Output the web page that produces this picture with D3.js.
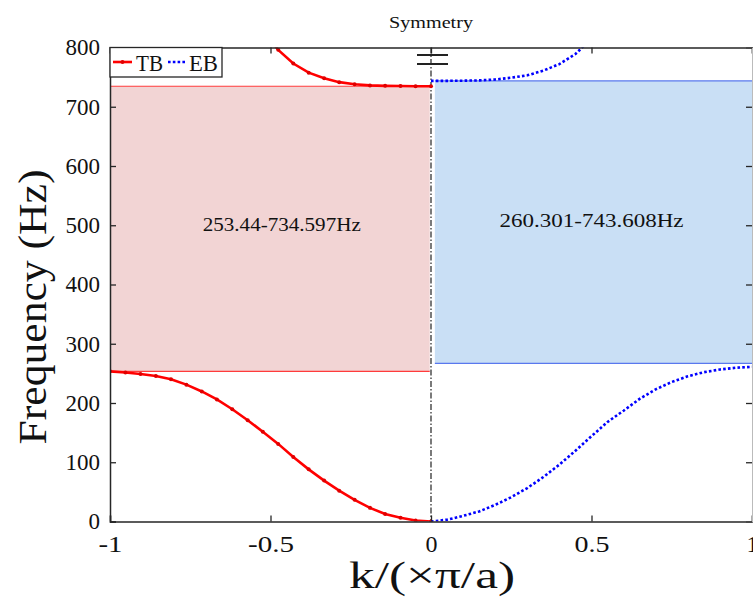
<!DOCTYPE html>
<html>
<head>
<meta charset="utf-8">
<script src="https://cdn.jsdelivr.net/npm/d3@7/dist/d3.min.js"></script>
<style>
  body { margin: 0; background: #fff; }
  svg text { font-family: "Liberation Serif", "Times New Roman", serif !important; fill: #111; }
</style>
</head>
<body>
<svg id="chart"></svg>
<script>
// values
let kRed = [-1, -0.952, -0.905, -0.857, -0.810, -0.762, -0.714, -0.667, -0.619, -0.571, -0.524,
            -0.476, -0.429, -0.381, -0.333, -0.286, -0.238, -0.190, -0.143, -0.095, -0.048, 0];
let tbLow = [253.4, 251.5, 249, 245.5, 240, 231, 219.5, 206, 189.5, 171, 151.5,
             131, 109, 88, 69, 52, 36.5, 23, 12.6, 6.2, 1.8, 0];
let tbHigh = [null, null, null, null, null, null, null, null, null, null, 830,
              796, 773, 757.5, 748, 741.5, 738, 736, 735.3, 734.9, 734.7, 734.6];

let kBlue = [0, 0.05, 0.1, 0.15, 0.2, 0.25, 0.3, 0.35, 0.4, 0.45, 0.5,
             0.55, 0.6, 0.65, 0.7, 0.75, 0.8, 0.85, 0.9, 0.95, 1];
let ebLow = [0, 3, 9.5, 17, 28, 41, 56.5, 75, 96, 119.5, 144,
             168, 187, 207, 223, 235.5, 245, 252, 256.5, 259.5, 261];
let ebHigh = [743.6, 743.7, 744, 744.5, 746, 749, 753, 761, 772, 789, 815,
              850, null, null, null, null, null, null, null, null, null];

// band gaps: [k start, k end, f low, f high]
let redBand = [-1, -0.004, 253.44, 734.597];
let blueBand = [0.012, 1, 267, 743.608];
let bandLabels = ["253.44-734.597Hz", "260.301-743.608Hz"];

let xTicks = [-1, -0.5, 0, 0.5, 1];
let xTickLen = [24, 46, 12, 35, 12];
let yTicks = [0, 100, 200, 300, 400, 500, 600, 700, 800];
let legendNames = ["TB", "EB"];

let width = 753;
let height = 597;
let mLeft = 110, mRight = 752, mTop = 47.5, mBottom = 521.5;
let serif = "'Liberation Serif', 'Times New Roman', serif";

let svg = d3.select("#chart").attr("width", width).attr("height", height);

let xScale = d3.scaleLinear().domain([-1, 1]).range([mLeft, mRight]);
let yScale = d3.scaleLinear().domain([0, 800]).range([mBottom, mTop]);

svg.append("defs").append("clipPath").attr("id", "plot")
  .append("rect").attr("x", mLeft).attr("y", mTop)
  .attr("width", mRight - mLeft).attr("height", mBottom - mTop);

let plot = svg.append("g").attr("clip-path", "url(#plot)");

// shaded band gaps
let drawBand = (b, fill, edge) => {
  plot.append("rect")
    .attr("x", xScale(b[0])).attr("y", yScale(b[3]))
    .attr("width", xScale(b[1]) - xScale(b[0]))
    .attr("height", yScale(b[2]) - yScale(b[3]))
    .attr("fill", fill);
  [b[2], b[3]].forEach((f) => {
    plot.append("line")
      .attr("x1", xScale(b[0])).attr("x2", xScale(b[1]))
      .attr("y1", yScale(f)).attr("y2", yScale(f))
      .attr("stroke", edge).attr("stroke-width", 1.2);
  });
};
drawBand(redBand, "#f2d4d4", "#ff3b3b");
drawBand(blueBand, "#c9dff5", "#5a78ee");

// text helper, stretched to the width seen in the picture
let label = (x, y, str, size, len, rot) => {
  let t = svg.append("text")
    .attr("transform", "translate(" + x + "," + y + ")" + (rot ? " rotate(-90)" : ""))
    .attr("text-anchor", "middle")
    .style("font-family", serif)
    .attr("font-size", size)
    .text(str);
  if (len) t.attr("textLength", len).attr("lengthAdjust", "spacingAndGlyphs");
  return t;
};

// band labels
label(xScale(-0.465), yScale(490), bandLabels[0], 19, 158);
label(xScale(0.5), yScale(497), bandLabels[1], 19, 184);

// symmetry dash-dot line
plot.append("line")
  .attr("x1", xScale(0)).attr("x2", xScale(0))
  .attr("y1", mTop).attr("y2", mBottom)
  .attr("stroke", "#333").attr("stroke-width", 1.3)
  .attr("stroke-dasharray", "6,2,1.5,2");

let line = (ks) => d3.line()
  .defined((d) => d !== null)
  .x((d, i) => xScale(ks[i]))
  .y((d) => yScale(d));

// TB branches (solid red with small markers)
[tbLow, tbHigh].forEach((vals) => {
  plot.append("path").datum(vals)
    .attr("d", line(kRed))
    .attr("fill", "none").attr("stroke", "#ff0000").attr("stroke-width", 2.6);
  plot.selectAll(null)
    .data(vals.map((v, i) => [kRed[i], v]).filter((d) => d[1] !== null))
    .enter().append("circle")
    .attr("cx", (d) => xScale(d[0])).attr("cy", (d) => yScale(d[1]))
    .attr("r", 2).attr("fill", "#e00000");
});

// EB branches (blue dotted)
[ebLow, ebHigh].forEach((vals) => {
  plot.append("path").datum(vals)
    .attr("d", line(kBlue))
    .attr("fill", "none").attr("stroke", "#0000ff").attr("stroke-width", 2.6)
    .attr("stroke-dasharray", "2.6,2.2");
});

// axes with inward ticks
let xAxisB = d3.axisBottom(xScale).tickValues(xTicks).tickSize(-6).tickPadding(12)
  .tickFormat((d) => String(d));
let gx = svg.append("g").attr("transform", "translate(0," + mBottom + ")").call(xAxisB);
gx.selectAll("text").attr("dy", "0.8em")
  .attr("textLength", (d, i) => xTickLen[i]).attr("lengthAdjust", "spacingAndGlyphs");

let yAxisL = d3.axisLeft(yScale).tickValues(yTicks).tickSize(-6).tickPadding(10);
let gy = svg.append("g").attr("transform", "translate(" + mLeft + ",0)").call(yAxisL);

let gt = svg.append("g").attr("transform", "translate(0," + mTop + ")")
  .call(d3.axisTop(xScale).tickValues(xTicks).tickSize(-6).tickFormat(""));
let gr = svg.append("g").attr("transform", "translate(" + mRight + ",0)")
  .call(d3.axisRight(yScale).tickValues(yTicks).tickSize(-6).tickFormat(""));

[gx, gy, gt, gr].forEach((g) => {
  g.attr("font-family", null).attr("font-size", 23);
  g.select(".domain").attr("stroke", "#262626").attr("stroke-width", 1.5);
  g.selectAll(".tick line").attr("stroke", "#262626").attr("stroke-width", 1.3);
  g.selectAll("text").style("font-family", serif).attr("fill", "#111");
});
gr.select(".domain").attr("stroke", "#bbb").attr("stroke-width", 1);

// axis break marks on the symmetry line
[55, 64].forEach((yy) => {
  svg.append("line")
    .attr("x1", xScale(0) - 14).attr("x2", xScale(0) + 17)
    .attr("y1", yy).attr("y2", yy)
    .attr("stroke", "#222").attr("stroke-width", 2);
});

// title and axis labels
label(xScale(0), 28, "Symmetry", 17, 84);
label(xScale(0) + 1, 588, "k/(×π/a)", 37, 166);
label(46, 307, "Frequency (Hz)", 39, 275, true);

// legend
let lg = svg.append("g");
lg.append("rect").attr("x", mLeft).attr("y", mTop).attr("width", 112).attr("height", 29.5)
  .attr("fill", "#fff").attr("stroke", "#262626").attr("stroke-width", 1.3);
lg.append("line").attr("x1", 113).attr("x2", 132).attr("y1", 62).attr("y2", 62)
  .attr("stroke", "#ff0000").attr("stroke-width", 2.6);
lg.append("circle").attr("cx", 122.5).attr("cy", 62).attr("r", 2).attr("fill", "#e00000");
lg.append("line").attr("x1", 168).attr("x2", 187).attr("y1", 62).attr("y2", 62)
  .attr("stroke", "#0000ff").attr("stroke-width", 2.6).attr("stroke-dasharray", "2.6,2.2");
lg.append("text").attr("x", 136).attr("y", 70.5).style("font-family", serif)
  .attr("font-size", 24).attr("textLength", 27).attr("lengthAdjust", "spacingAndGlyphs")
  .text(legendNames[0]);
lg.append("text").attr("x", 189).attr("y", 70.5).style("font-family", serif)
  .attr("font-size", 24).attr("textLength", 29).attr("lengthAdjust", "spacingAndGlyphs")
  .text(legendNames[1]);
</script>
</body>
</html>
